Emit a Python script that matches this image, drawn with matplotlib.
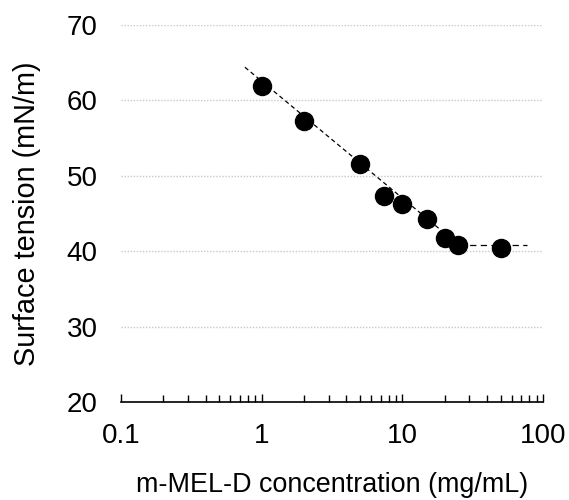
import matplotlib.pyplot as plt
import numpy as np

plt.rcParams["font.family"] = ["Liberation Sans", "DejaVu Sans"]

# surface tension vs concentration
conc = [1, 2, 5, 7.4, 10, 15, 20, 25, 50]
tension = [61.9, 57.3, 51.6, 47.3, 46.3, 44.3, 41.7, 40.8, 40.4]

# linear fit below CMC (tension = a + b*log10(c)) and plateau above it
fit_a, fit_b = 62.55, -15.5
fit_range = [0.76, 25.4]
plateau = 40.8
plateau_range = [25.4, 77]

fig = plt.figure(figsize=(5.69, 5.0), dpi=100)
ax = fig.add_axes([0.2127, 0.196, 0.7415, 0.754])

xf = np.logspace(np.log10(fit_range[0]), np.log10(fit_range[1]), 50)
ax.plot(xf, fit_a + fit_b * np.log10(xf), color="black", lw=0.9,
        ls=(0, (3.5, 2.5)), zorder=2)
ax.plot(plateau_range, [plateau, plateau], color="black", lw=0.9,
        ls=(0, (5, 3.5)), zorder=2)
ax.plot(conc, tension, "o", color="black", ms=13, zorder=3)

ax.set_xscale("log")
ax.set_xlim(0.1, 100)
ax.set_ylim(20, 70)
ax.set_yticks([20, 30, 40, 50, 60, 70])
ax.set_xticks([0.1, 1, 10, 100])
ax.set_xticklabels(["0.1", "1", "10", "100"])

for y in [30, 40, 50, 60, 70]:
    ax.axhline(y, color="#c8c8c8", lw=1.0, ls=(0, (1, 1.2)), zorder=1)

for s in ["top", "right", "left"]:
    ax.spines[s].set_visible(False)
ax.spines["bottom"].set_linewidth(1.2)

ax.tick_params(axis="y", length=0, labelsize=20, pad=17)
ax.tick_params(axis="x", which="major", direction="in", length=6, width=1.0,
               labelsize=20, pad=15)
ax.tick_params(axis="x", which="minor", direction="in", length=5, width=1.0)

ax.set_ylabel("Surface tension (mN/m)", fontsize=20.8, labelpad=18)
ax.set_xlabel("m-MEL-D concentration (mg/mL)", fontsize=19.4, labelpad=17)

fig.savefig("out.png", dpi=100)
